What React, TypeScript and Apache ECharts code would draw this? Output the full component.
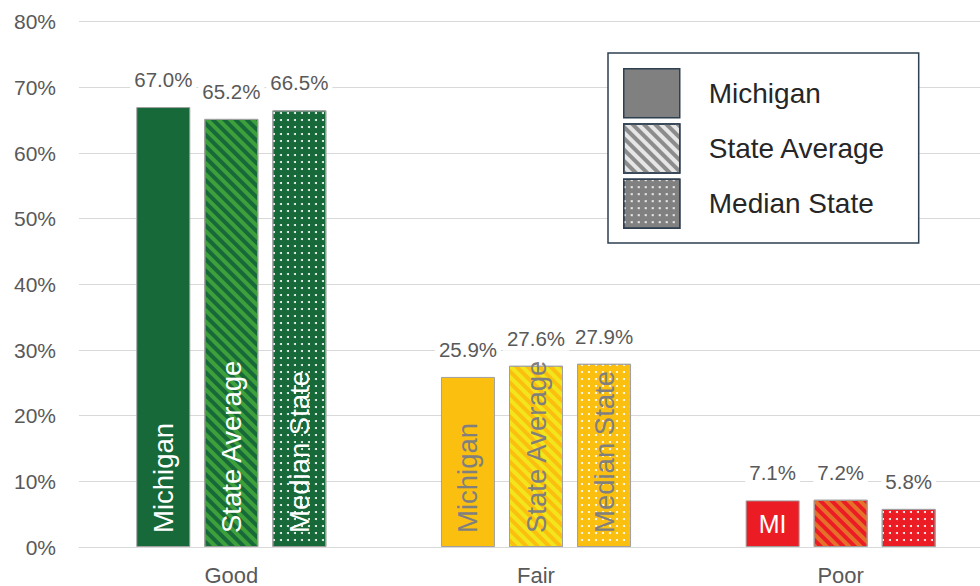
import React, { useEffect, useRef } from "react";
import * as echarts from "echarts";

const categories = ["Good", "Fair", "Poor"];
const seriesNames = ["Michigan", "State Average", "Median State"];
const michigan = [67.0, 25.9, 7.1];
const stateAverage = [65.2, 27.6, 7.2];
const medianState = [66.5, 27.9, 5.8];
const yMin = 0;
const yMax = 80;
const yInterval = 10;

const FONT = "'Liberation Sans', Arial, sans-serif";
const LABEL_GRAY = "#595959";

// per-category colours
const baseColors = ["#17693A", "#FBBF10", "#EC1C24"];
const stripeColors = ["#3DA03B", "#F3E51B", "#E5702A"];
const innerLabelColors = ["#ffffff", "#7f7f7f", "#ffffff"];

const stripeDecal = (color: string) => ({
  symbol: "rect",
  symbolSize: 1,
  color,
  dashArrayX: [1, 0],
  dashArrayY: [3.6, 3.6],
  rotation: Math.PI / 4,
});
const dotDecal = (color: string) => ({
  symbol: "circle",
  symbolSize: 1,
  color,
  dashArrayX: [1.6, 5],
  dashArrayY: [1.6, 5],
  rotation: 0,
});

export default function App() {
  const ref = useRef<HTMLDivElement>(null);
  useEffect(() => {
    if (!ref.current) return;
    const chart = echarts.init(ref.current, null, { renderer: "svg" });
    const allValues = [michigan, stateAverage, medianState];

    const mainSeries = allValues.map((vals, si) => {
      const data = vals.map((v, ci) => {
        const itemStyle: any = { color: baseColors[ci] };
        if (si === 1) itemStyle.decal = stripeDecal(stripeColors[ci]);
        if (si === 2) itemStyle.decal = dotDecal("#ffffff");
        let label: any = { color: innerLabelColors[ci] };
        if (ci === 2) {
          if (si === 0) {
            label = {
              show: true,
              position: "inside",
              rotate: 0,
              align: "center",
              verticalAlign: "middle",
              formatter: "MI",
              fontSize: 25,
              color: "#ffffff",
            };
          } else {
            label = { show: false };
          }
        }
        return { value: v, itemStyle, label };
      });
      const seriesItemStyle: any = {
        color: si === 1 ? "#e6e6e6" : "#808080",
        borderColor: "#a0a0a0",
        borderWidth: 1,
      };
      if (si === 1) seriesItemStyle.decal = stripeDecal("#8c8c8c");
      if (si === 2) seriesItemStyle.decal = dotDecal("#ffffff");
      return {
        name: seriesNames[si],
        type: "bar",
        xAxisIndex: 0,
        barWidth: 54,
        barGap: "26%",
        itemStyle: seriesItemStyle,
        label: {
          show: true,
          position: "insideBottom",
          distance: 14,
          rotate: 90,
          align: "left",
          verticalAlign: "middle",
          fontSize: 27.5,
          fontFamily: FONT,
          formatter: seriesNames[si],
        },
        data,
      };
    });

    const labelSeries = allValues.map((vals, si) => ({
      name: "label-" + seriesNames[si],
      type: "bar",
      xAxisIndex: 1,
      barWidth: 54,
      barGap: "26%",
      silent: true,
      itemStyle: { color: "rgba(0,0,0,0)", borderWidth: 0 },
      label: {
        show: true,
        position: "top",
        distance: 15,
        fontSize: 20.5,
        fontFamily: FONT,
        color: LABEL_GRAY,
        backgroundColor: "#ffffff",
        padding: [2, 4],
        formatter: (p: any) => Number(p.value).toFixed(1) + "%",
      },
      data: vals,
    }));

    chart.setOption({
      animation: false,
      grid: { left: 79, top: 21.7, right: 0, bottom: 38.7 },
      legend: {
        orient: "vertical",
        left: 608,
        top: 53,
        data: seriesNames,
        icon: "rect",
        itemWidth: 56,
        itemHeight: 49,
        itemGap: 4.7,
        padding: [15, 33, 14, 15],
        backgroundColor: "#ffffff",
        borderColor: "#2e3f50",
        borderWidth: 1.5,
        selectedMode: false,
        itemStyle: { borderColor: "#2e3f50", borderWidth: 1.5 },
        textStyle: {
          fontSize: 28,
          fontFamily: FONT,
          color: "#262626",
          padding: [0, 0, 0, 24],
        },
      },
      xAxis: [
        {
          type: "category",
          data: categories,
          axisLine: { lineStyle: { color: "#d9d9d9", width: 1 } },
          axisTick: { show: false },
          axisLabel: { fontSize: 22, fontFamily: FONT, color: LABEL_GRAY, margin: 17 },
        },
        { type: "category", data: categories, show: false },
      ],
      yAxis: {
        type: "value",
        min: yMin,
        max: yMax,
        interval: yInterval,
        axisLine: { show: false },
        axisTick: { show: false },
        axisLabel: {
          formatter: "{value}%",
          fontSize: 21,
          fontFamily: FONT,
          color: LABEL_GRAY,
          margin: 23,
        },
        splitLine: { lineStyle: { color: "#d9d9d9", width: 1 } },
      },
      series: [...mainSeries, ...labelSeries],
    });
    return () => chart.dispose();
  }, []);
  return (
    <div
      style={{
        position: "fixed",
        left: 0,
        top: 0,
        width: 980,
        height: 586,
        overflow: "hidden",
        background: "#fff",
      }}
    >
      <div ref={ref} style={{ width: 993, height: 586 }} />
    </div>
  );
}
